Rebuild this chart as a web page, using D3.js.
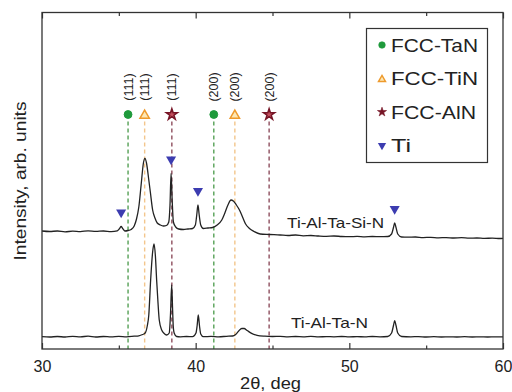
<!DOCTYPE html>
<html><head><meta charset="utf-8">
<script src="https://cdn.jsdelivr.net/npm/d3@7"></script>
<style>
body{margin:0;background:#fff}
svg{display:block}
text{font-family:"Liberation Sans",Arial,sans-serif;fill:#222}
</style>
</head><body><svg id="c" width="512" height="392"></svg>
<script>
// ---- data ----
const xTicks = [30, 40, 50, 60];
const xMinorTicks = [35, 45, 55];

const siTheta = [30.0,30.5,31.0,31.5,32.0,32.5,33.0,33.5,34.0,34.5,34.9,35.05,35.15,35.25,35.4,35.6,35.8,36.0,36.15,36.3,36.45,36.6,36.7,36.8,36.95,37.05,37.2,37.35,37.5,37.7,37.9,38.1,38.25,38.33,38.4,38.47,38.55,38.7,38.9,39.2,39.5,39.8,39.98,40.07,40.15,40.23,40.33,40.5,40.8,41.1,41.4,41.7,41.9,42.1,42.3,42.45,42.65,42.85,43.05,43.25,43.5,43.8,44.2,44.8,45.5,46.0,46.5,47.0,47.5,48.0,48.5,49.0,49.5,50.0,50.5,51.0,51.5,52.0,52.5,52.75,52.88,52.95,53.03,53.15,53.4,53.8,54.3,54.8,55.3,55.8,56.3,56.8,57.3,57.8,58.3,58.8,59.3,59.8,60.0];
const siIntensity = [118.0,117.5,118.0,117.2,117.8,117.4,118.2,117.6,118.0,117.4,118.2,120.5,122.5,120.5,118,118.5,119.5,123,130,142,164,186,190.7,186,169,157,139,131,126,124,123,123.5,127,144,175.5,149,127,122,120,119.5,120,120.5,124,134,144,134,124,120.5,121,121.5,124,129,136,144,149,148,144,139,132,125,120.5,117.5,115,114.5,114,113.5,114,113.2,113.5,113,112.7,113,112.5,112.3,112.6,112.2,112.5,112.3,112.5,115,122,126,122,115,112,111.8,112,111.4,111.7,111.2,111.4,111,111.3,110.8,111,110.6,110.9,110.5,110.7];

const nTheta = [30,30.5,31,31.5,32,32.5,33,33.5,34,34.5,35,35.5,36,36.3,36.55,36.7,36.85,36.95,37.07,37.2,37.29,37.38,37.46,37.55,37.63,37.79,37.95,38.11,38.28,38.36,38.44,38.5,38.54,38.6,38.76,39.0,39.4,39.8,40.02,40.1,40.17,40.25,40.33,40.5,41.0,41.5,42.0,42.4,42.6,42.8,43.0,43.15,43.35,43.64,44.0,44.5,45,45.5,46,46.5,47,47.5,48,48.5,49,49.5,50,50.5,51,51.5,52,52.5,52.75,52.88,52.95,53.03,53.15,53.4,54,54.5,55,55.5,56,56.5,57,57.5,58,58.5,59,59.5,60];
const nIntensity = [12.3,12.0,12.5,12.0,12.7,12.2,12.8,12.0,12.5,12.1,12.6,12.2,12.8,13.2,14.5,15.7,23,34,69,97,105,93,69,46,29,19,15.5,14,16,34,64,39,23,16,12.5,12.2,12.5,12.3,16,24,34,23,15,12.3,12.6,12.2,12.7,13,14.5,18,20.5,20.5,18.5,15.7,13.7,12.8,12.5,12.7,12.2,12.5,12.2,12.6,12.1,12.4,12.2,12.5,12.1,12.4,12.1,12.5,12.2,12.5,16,24,28.3,24,16,12.5,12.2,12.4,12,12.3,12,12.2,12,12.3,12,12.2,12,12.2,12.2];

const phases = ["FCC-TaN", "FCC-TiN", "FCC-AlN"];
const phasePeaks = [[35.6, 41.18], [36.68, 42.55], [38.45, 44.78]];
const hkl = ["(111)", "(200)"];
const tiPeaks = [35.15, 38.4, 40.15, 52.95];
const legendLabels = ["FCC-TaN", "FCC-TiN", "FCC-AlN", "Ti"];
const curveLabels = ["Ti-Al-Ta-Si-N", "Ti-Al-Ta-N"];

// ---- layout / style ----
const svg = d3.select("#c");
const L = 42, R = 503, T = 12.5, B = 349;
const x = d3.scaleLinear().domain([30, 60]).range([L, R]);
const y = d3.scaleLinear().domain([0, 336.5]).range([B, T]);

const lineColors = ["#55a055", "#f3c68c", "#8e4f5e"];
const mFill = ["#1f9a3c", "#fde7b4", "#c4505e"];
const mStroke = ["#1f9a3c", "#ee9a2c", "#761425"];
const mType = [d3.symbolCircle, d3.symbolTriangle, d3.symbolStar];
const mSize = [48, 38, 38];
const blue = "#3c3cb0";

// reference dashed lines
const markerY = 114.5;
phases.forEach((p, i) => {
  phasePeaks[i].forEach((t, j) => {
    svg.append("line")
      .attr("x1", x(t)).attr("x2", x(t))
      .attr("y1", markerY + 7).attr("y2", B)
      .attr("stroke", lineColors[i]).attr("stroke-width", 1.4)
      .attr("stroke-dasharray", "4,3");
    svg.append("path")
      .attr("d", d3.symbol(mType[i], mSize[i])())
      .attr("transform", `translate(${x(t)},${markerY + (i === 1 ? 1 : 0)})`)
      .attr("fill", mFill[i]).attr("stroke", mStroke[i]).attr("stroke-width", i === 0 ? 1 : 1.5);
    svg.append("text")
      .attr("transform", `translate(${x(t) + 4.5},${87}) rotate(-90)`)
      .attr("text-anchor", "middle")
      .attr("font-size", 12.5)
      .attr("fill", "#333")
      .text(hkl[j]);
  });
});

// curves
const line = d3.line().x(d => x(d[0])).y(d => y(d[1])).curve(d3.curveMonotoneX);
const siData = siTheta.map((t, i) => [t, siIntensity[i]]);
const nData = nTheta.map((t, i) => [t, nIntensity[i]]);
[siData, nData].forEach(dat => {
  svg.append("path").attr("d", line(dat))
    .attr("fill", "none").attr("stroke", "#222").attr("stroke-width", 1.3)
    .attr("stroke-linejoin", "round");
});

// Ti markers
tiPeaks.forEach(t => {
  const k = d3.minIndex(siTheta, v => Math.abs(v - t));
  svg.append("path")
    .attr("d", d3.symbol(d3.symbolTriangle, 44)())
    .attr("transform", `translate(${x(t)},${y(siIntensity[k]) - 14}) rotate(180)`)
    .attr("fill", blue);
});

// curve labels
const curveLabelPos = [[45.95, 121], [46.2, 21]];
const curveLabelLen = [97, 77];
curveLabels.forEach((s, i) => {
  svg.append("text")
    .attr("x", x(curveLabelPos[i][0])).attr("y", y(curveLabelPos[i][1]))
    .attr("font-size", 15)
    .attr("textLength", curveLabelLen[i]).attr("lengthAdjust", "spacingAndGlyphs")
    .text(s);
});

// axes
function styleAxis(g) {
  g.select(".domain").remove();
  g.selectAll(".tick line").attr("stroke", "#333").attr("stroke-width", 1.2);
  g.selectAll(".tick text").attr("font-size", 16).attr("fill", "#222")
    .attr("font-family", '"Liberation Sans",Arial,sans-serif');
}
svg.append("g").attr("transform", `translate(0,${B})`)
  .call(d3.axisBottom(x).tickValues(xTicks).tickSize(-6).tickPadding(11.5).tickFormat(d3.format("d")))
  .call(styleAxis);
svg.append("g").attr("transform", `translate(0,${B})`)
  .call(d3.axisBottom(x).tickValues(xMinorTicks).tickSize(-3.5).tickFormat(""))
  .call(styleAxis);
svg.append("g").attr("transform", `translate(0,${T})`)
  .call(d3.axisTop(x).tickValues(xTicks).tickSize(-6).tickFormat(""))
  .call(styleAxis);
svg.append("g").attr("transform", `translate(0,${T})`)
  .call(d3.axisTop(x).tickValues(xMinorTicks).tickSize(-3.5).tickFormat(""))
  .call(styleAxis);

svg.append("rect").attr("x", L).attr("y", T).attr("width", R - L).attr("height", B - T)
  .attr("fill", "none").attr("stroke", "#333").attr("stroke-width", 1.3);

// axis titles
svg.append("text").attr("x", 270.5).attr("y", 389).attr("text-anchor", "middle")
  .attr("font-size", 16).attr("textLength", 61).attr("lengthAdjust", "spacingAndGlyphs")
  .text("2θ, deg");
svg.append("text").attr("transform", "translate(25.5,181) rotate(-90)").attr("text-anchor", "middle")
  .attr("font-size", 16).attr("textLength", 159).attr("lengthAdjust", "spacingAndGlyphs")
  .text("Intensity, arb. units");

// legend
svg.append("rect").attr("x", 366.5).attr("y", 28.5).attr("width", 121).attr("height", 134)
  .attr("fill", "#fff").attr("stroke", "#333").attr("stroke-width", 1.2);
const legRows = [45, 78.5, 112, 145.5];
const legLen = [87, 87, 85, 20];
const legSize = [34, 22, 26];
legendLabels.forEach((s, i) => {
  const g = svg.append("g").attr("transform", `translate(382,${legRows[i]})`);
  if (i < 3) {
    g.append("path").attr("d", d3.symbol(mType[i], legSize[i])())
      .attr("transform", i === 1 ? "translate(0,1)" : null)
      .attr("fill", i === 1 ? mFill[i] : mStroke[i]).attr("stroke", mStroke[i]).attr("stroke-width", i === 1 ? 1.4 : 0.6);
  } else {
    g.append("path").attr("d", d3.symbol(d3.symbolTriangle, 30)())
      .attr("transform", "rotate(180)").attr("fill", blue);
  }
  g.append("text").attr("x", 9).attr("y", 6.8).attr("font-size", 18.5)
    .attr("textLength", legLen[i]).attr("lengthAdjust", "spacingAndGlyphs")
    .text(s);
});
</script>
</body></html>
